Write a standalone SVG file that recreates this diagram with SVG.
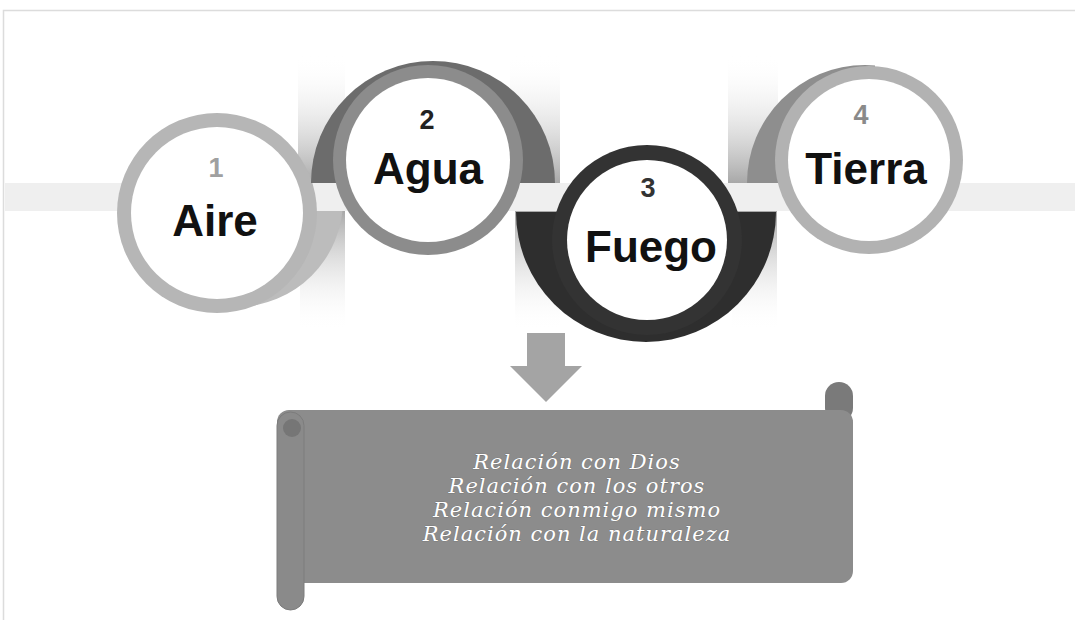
<svg xmlns="http://www.w3.org/2000/svg" width="1075" height="620" viewBox="0 0 1075 620">
<defs>
<style>
.num{font-family:"Liberation Sans",Arial,sans-serif;font-weight:bold;font-size:27px;text-anchor:middle}
.lbl{font-family:"Liberation Sans",Arial,sans-serif;font-weight:bold;font-size:44px;text-anchor:middle;fill:#111}
.scr{font-family:"DejaVu Serif","Liberation Serif",serif;font-style:italic;font-size:21px;letter-spacing:1px;fill:#fff;text-anchor:middle;stroke:#6a6a6a;stroke-width:0.6;paint-order:stroke}
.white{fill:#fff}
</style>
<linearGradient id="up" x1="0" y1="0" x2="0" y2="1">
<stop offset="0" stop-color="#fff" stop-opacity="0"/>
<stop offset="1" stop-color="#a8a8a8"/>
</linearGradient>
<linearGradient id="down" x1="0" y1="0" x2="0" y2="1">
<stop offset="0" stop-color="#a8a8a8"/>
<stop offset="1" stop-color="#fff" stop-opacity="0"/>
</linearGradient>
<clipPath id="cAire"><rect x="0" y="211" width="1075" height="300"/></clipPath>
<clipPath id="cTop"><rect x="0" y="0" width="1075" height="183"/></clipPath>
<clipPath id="cBot"><rect x="0" y="212" width="1075" height="300"/></clipPath>
<clipPath id="cTierra"><rect x="700" y="0" width="175" height="183"/></clipPath>
</defs>
<rect width="1075" height="620" fill="#fff"/>
<path d="M3.500 620 V10.500 H1075" fill="none" stroke="#dcdcdc" stroke-width="1.500"/>
<rect x="5" y="183" width="1070" height="28" fill="#efefef"/>
<g id="strips">
<rect x="298" y="55" width="47" height="128" fill="url(#up)"/>
<rect x="300" y="211" width="45" height="120" fill="url(#down)"/>
<rect x="510" y="55" width="50" height="128" fill="url(#up)"/>
<rect x="515" y="211" width="45" height="120" fill="url(#down)"/>
<rect x="728" y="55" width="50" height="128" fill="url(#up)"/>
<rect x="732" y="211" width="45" height="120" fill="url(#down)"/>
</g>
<g id="node-aire">
<circle cx="236" cy="200" r="107" fill="#bcbcbc" clip-path="url(#cAire)"/>
<circle cx="217" cy="213" r="100" fill="#b6b6b6"/>
<circle cx="217" cy="213" r="86" class="white"/>
<text x="216" y="177" class="num" fill="#a0a0a0">1</text>
<text x="215" y="236" class="lbl">Aire</text>
</g>
<g id="node-agua">
<circle cx="433" cy="183" r="122" fill="#6c6c6c" clip-path="url(#cTop)"/>
<circle cx="428" cy="160" r="95" fill="#8c8c8c"/>
<circle cx="428" cy="160" r="82" class="white"/>
<text x="427" y="129" class="num" fill="#222">2</text>
<text x="428" y="184" class="lbl">Agua</text>
</g>
<g id="node-fuego">
<circle cx="646" cy="212" r="130" fill="#2e2e2e" clip-path="url(#cBot)"/>
<circle cx="647" cy="240" r="95" fill="#333"/>
<circle cx="647" cy="240" r="80" class="white"/>
<text x="648" y="197" class="num" fill="#333">3</text>
<text x="651" y="262" class="lbl">Fuego</text>
</g>
<g id="node-tierra">
<circle cx="865" cy="183" r="118" fill="#8e8e8e" clip-path="url(#cTierra)"/>
<circle cx="869" cy="160" r="94" fill="#b2b2b2"/>
<circle cx="869" cy="160" r="81" class="white"/>
<text x="861" y="124" class="num" fill="#8a8a8a">4</text>
<text x="866" y="184" class="lbl">Tierra</text>
</g>
<g id="connectors">
<path d="M527 333 H565 V366 H582 L546 402 L510 366 H527 Z" fill="#a4a4a4"/>
</g>
<g id="node-scroll">
<rect x="825" y="382" width="28" height="40" rx="14" fill="#7a7a7a"/>
<rect x="277" y="410" width="576" height="173" rx="12" fill="#8c8c8c"/>
<rect x="277" y="412" width="27" height="198" rx="13.500" fill="#8a8a8a" stroke="#7c7c7c" stroke-width="1"/>
<circle cx="292" cy="428" r="9" fill="#767676"/>
<text x="577" y="469" class="scr">Relación con Dios</text>
<text x="577" y="493" class="scr">Relación con los otros</text>
<text x="577" y="517" class="scr">Relación conmigo mismo</text>
<text x="577" y="541" class="scr">Relación con la naturaleza</text>
</g>
</svg>
